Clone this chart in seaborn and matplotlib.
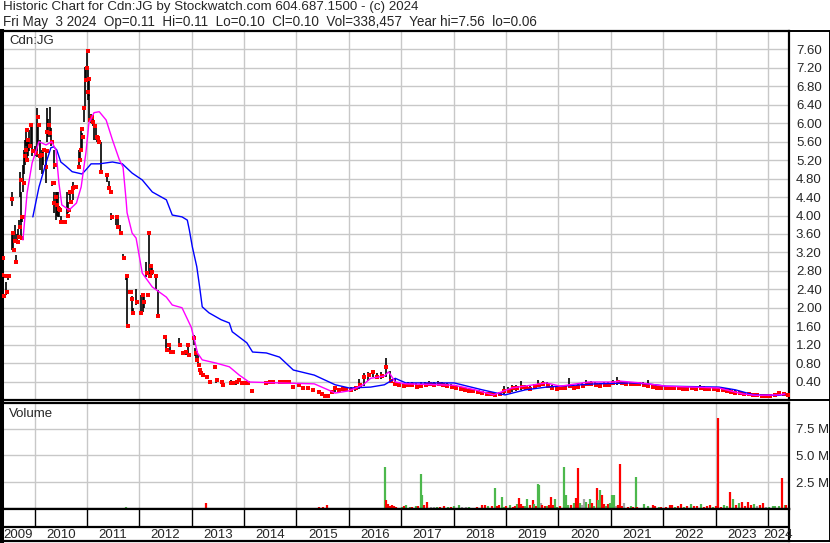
import numpy as np
import pandas as pd
import matplotlib
matplotlib.use("Agg")
import matplotlib.pyplot as plt
from matplotlib.lines import Line2D
import seaborn as sns

W, H = 830, 543

title_line1 = "Historic Chart for Cdn:JG by Stockwatch.com 604.687.1500 - (c) 2024"
title_line2 = ("Fri May  3 2024  Op=0.11  Hi=0.11  Lo=0.10  Cl=0.10  "
               "Vol=338,457  Year hi=7.56  lo=0.06")
symbol = "Cdn:JG"

# sparse trading 2009-2015: one row per year in each list
bar_dates = [
    "2009-05-15", "2009-05-22", "2009-05-29", "2009-06-10", "2009-06-18", "2009-06-25", "2009-07-03",
    "2009-07-25", "2009-07-28", "2009-08-05", "2009-08-15", "2009-08-22", "2009-09-01", "2009-09-10",
    "2009-09-18", "2009-09-22", "2009-09-29", "2009-10-01", "2009-10-05", "2009-10-12", "2009-10-20",
    "2009-10-28", "2009-11-03", "2009-11-08", "2009-11-15", "2009-11-25", "2009-12-05", "2009-12-15",
    "2010-01-05", "2010-01-18", "2010-01-28", "2010-02-05", "2010-02-20", "2010-03-01", "2010-03-20",
    "2010-03-25", "2010-03-28", "2010-04-08", "2010-04-18", "2010-04-28", "2010-05-05", "2010-05-10",
    "2010-05-15", "2010-05-20", "2010-05-28", "2010-06-05", "2010-06-15", "2010-06-22", "2010-07-03",
    "2010-07-20", "2010-07-28", "2010-08-18", "2010-08-25", "2010-09-01", "2010-09-08", "2010-09-12",
    "2010-09-25", "2010-10-05", "2010-10-15", "2010-11-05", "2010-11-10", "2010-11-15", "2010-11-22",
    "2010-11-28", "2010-12-10", "2010-12-22", "2010-12-28",
    "2011-01-03", "2011-01-08", "2011-01-14", "2011-01-19", "2011-02-01", "2011-02-10", "2011-02-22",
    "2011-03-05", "2011-03-15", "2011-03-25", "2011-04-08", "2011-05-20", "2011-06-01", "2011-06-12",
    "2011-06-20", "2011-07-25", "2011-08-05", "2011-08-20", "2011-09-10", "2011-10-01", "2011-10-08",
    "2011-10-22", "2011-10-28", "2011-11-10", "2011-11-15", "2011-12-10",
    "2012-01-12", "2012-01-25", "2012-02-01", "2012-02-20", "2012-02-28", "2012-03-08", "2012-03-15",
    "2012-03-22", "2012-03-29", "2012-04-25", "2012-05-10", "2012-06-25", "2012-07-08", "2012-07-20",
    "2012-08-05", "2012-08-20", "2012-10-05", "2012-10-25", "2012-11-20", "2012-12-05", "2012-12-12",
    "2013-01-15", "2013-01-25", "2013-02-01", "2013-02-15", "2013-02-25", "2013-03-05", "2013-03-15",
    "2013-04-12", "2013-05-01", "2013-06-05", "2013-06-20", "2013-07-25", "2013-08-05", "2013-10-01",
    "2013-10-15", "2013-11-08", "2013-11-20", "2013-12-10",
    "2014-01-05", "2014-01-25", "2014-02-20", "2014-06-01", "2014-06-25", "2014-07-15", "2014-09-01",
    "2014-09-20", "2014-10-10", "2014-11-05", "2014-12-01",
    "2015-01-15", "2015-02-10", "2015-03-15", "2015-04-20", "2015-06-01", "2015-06-25", "2015-07-15",
    "2015-08-05", "2015-09-05", "2015-09-25", "2015-10-20", "2015-11-15", "2015-12-10",
]
bar_high = [
    2.95, 3.10, 2.60, 2.70, 2.56, 2.72, 2.70, 4.50, 3.62, 3.62, 3.80, 3.15, 3.60, 3.70,
    3.90, 4.95, 4.50, 4.00, 4.00, 5.10, 5.42, 5.64, 5.90, 5.60, 5.64, 5.86, 6.00, 5.97,
    5.50, 6.33, 6.00, 5.64, 5.42, 5.45, 5.05, 5.45, 6.33, 6.10, 6.35, 5.90, 4.75, 4.72,
    4.50, 5.42, 4.50, 4.50, 4.50, 4.20, 4.00, 3.90, 3.90, 4.50, 4.30, 4.51, 4.50, 4.53,
    4.73, 4.65, 4.62, 5.10, 5.42, 5.45, 5.90, 5.79, 6.33, 7.23, 7.25,
    7.56, 7.20, 7.00, 6.62, 6.20, 6.10, 6.05, 5.95, 5.70, 5.68, 5.60, 4.90, 4.75, 4.55,
    4.05, 4.01, 3.95, 3.80, 3.17, 2.72, 2.69, 2.34, 2.36, 2.25, 2.00, 2.40,
    2.28, 2.30, 2.28, 3.00, 2.30, 3.62, 2.75, 2.95, 2.90, 2.72, 2.39, 1.40, 1.35, 1.20,
    1.20, 1.06, 1.35, 1.05, 1.06, 1.20, 1.00,
    1.40, 1.13, 1.00, 0.98, 0.70, 0.65, 0.60, 0.54, 0.42, 0.75, 0.46, 0.41, 0.35, 0.43,
    0.38, 0.43, 0.44, 0.38,
    0.38, 0.38, 0.22, 0.39, 0.40, 0.40, 0.40, 0.40, 0.41, 0.40, 0.30,
    0.33, 0.30, 0.28, 0.24, 0.18, 0.15, 0.12, 0.10, 0.22, 0.28, 0.26, 0.28, 0.27,
]
bar_low = [
    2.55, 2.90, 2.25, 2.68, 2.28, 2.65, 2.60, 4.20, 3.25, 3.25, 3.40, 3.00, 3.40, 3.50,
    3.70, 4.40, 3.85, 3.47, 3.86, 4.50, 4.90, 5.10, 5.50, 5.15, 5.30, 5.40, 5.50, 5.30,
    5.30, 5.27, 5.60, 4.99, 4.90, 5.10, 4.70, 5.10, 5.60, 5.70, 5.70, 5.50, 4.65, 4.68,
    4.05, 5.00, 3.90, 4.00, 3.97, 3.97, 3.85, 3.84, 3.84, 3.97, 4.05, 4.45, 4.25, 4.50,
    4.34, 4.60, 4.60, 5.00, 5.05, 5.20, 5.40, 5.38, 6.03, 6.36, 6.90,
    7.20, 6.50, 6.60, 6.07, 6.00, 5.95, 5.64, 5.64, 5.60, 5.58, 4.95, 4.73, 4.55, 4.50,
    3.90, 3.80, 3.75, 3.60, 3.05, 2.60, 1.60, 2.30, 2.30, 1.89, 1.88, 2.05,
    1.89, 1.90, 2.00, 2.67, 2.26, 2.69, 2.68, 2.78, 2.70, 2.40, 1.80, 1.35, 1.08, 1.15,
    1.03, 1.02, 1.19, 1.00, 0.98, 1.00, 0.96,
    1.20, 0.95, 0.87, 0.72, 0.60, 0.55, 0.50, 0.45, 0.37, 0.70, 0.37, 0.38, 0.32, 0.33,
    0.36, 0.33, 0.40, 0.36,
    0.35, 0.36, 0.18, 0.36, 0.37, 0.38, 0.38, 0.38, 0.38, 0.37, 0.27,
    0.30, 0.26, 0.25, 0.21, 0.15, 0.10, 0.07, 0.06, 0.15, 0.18, 0.20, 0.20, 0.21,
]
bar_close = [
    2.70, 3.08, 2.26, 2.69, 2.34, 2.69, 2.69, 4.35, 3.62, 3.25, 3.45, 3.00, 3.43, 3.54,
    3.75, 4.77, 3.97, 3.51, 3.97, 4.70, 5.30, 5.42, 5.86, 5.20, 5.64, 5.50, 5.97, 5.40,
    5.36, 6.14, 5.97, 5.30, 5.31, 5.42, 5.05, 5.40, 5.80, 5.97, 5.79, 5.60, 4.70, 4.70,
    4.27, 5.10, 4.40, 4.23, 4.14, 4.12, 3.86, 3.86, 3.86, 4.00, 4.12, 4.51, 4.30, 4.51,
    4.60, 4.62, 4.62, 5.05, 5.20, 5.42, 5.88, 5.71, 6.33, 6.94, 7.20,
    7.56, 6.68, 6.96, 6.07, 6.14, 6.03, 5.95, 5.70, 5.68, 5.60, 4.95, 4.88, 4.60, 4.51,
    3.97, 3.97, 3.75, 3.62, 3.08, 2.69, 1.60, 2.34, 2.34, 2.20, 1.89, 2.12,
    1.89, 2.28, 2.12, 2.75, 2.28, 3.62, 2.69, 2.90, 2.78, 2.69, 1.82, 1.36, 1.08, 1.19,
    1.04, 1.04, 1.19, 1.02, 1.04, 1.19, 0.98,
    1.35, 1.02, 0.87, 0.76, 0.65, 0.58, 0.54, 0.50, 0.39, 0.72, 0.43, 0.39, 0.33, 0.37,
    0.37, 0.39, 0.43, 0.37,
    0.37, 0.37, 0.20, 0.37, 0.39, 0.39, 0.39, 0.39, 0.39, 0.39, 0.28,
    0.32, 0.26, 0.26, 0.22, 0.17, 0.12, 0.08, 0.08, 0.17, 0.25, 0.22, 0.24, 0.23,
]

# monthly bars Jan 2016 .. May 2024 (one row per year)
month_high = [
    0.28, 0.30, 0.45, 0.59, 0.60, 0.63, 0.58, 0.60, 0.91, 0.62, 0.45, 0.40,
    0.37, 0.38, 0.40, 0.36, 0.38, 0.38, 0.41, 0.38, 0.42, 0.38, 0.37, 0.34,
    0.33, 0.30, 0.28, 0.25, 0.24, 0.21, 0.20, 0.18, 0.16, 0.14, 0.16, 0.30,
    0.28, 0.32, 0.33, 0.42, 0.32, 0.30, 0.35, 0.43, 0.42, 0.38, 0.32, 0.30,
    0.30, 0.33, 0.47, 0.33, 0.34, 0.37, 0.43, 0.42, 0.38, 0.36, 0.38, 0.38,
    0.44, 0.50, 0.42, 0.40, 0.40, 0.39, 0.40, 0.38, 0.43, 0.34, 0.33, 0.31,
    0.31, 0.31, 0.30, 0.30, 0.30, 0.29, 0.30, 0.29, 0.33, 0.30, 0.29, 0.28,
    0.27, 0.26, 0.25, 0.23, 0.21, 0.19, 0.17, 0.15, 0.14, 0.13, 0.12, 0.11,
    0.12, 0.14, 0.18, 0.17, 0.11,
]
month_low = [
    0.17, 0.20, 0.24, 0.30, 0.42, 0.50, 0.45, 0.45, 0.50, 0.36, 0.31, 0.28,
    0.28, 0.30, 0.28, 0.25, 0.28, 0.30, 0.30, 0.30, 0.32, 0.30, 0.28, 0.26,
    0.25, 0.22, 0.20, 0.19, 0.17, 0.15, 0.14, 0.12, 0.11, 0.09, 0.10, 0.13,
    0.15, 0.18, 0.20, 0.22, 0.22, 0.20, 0.24, 0.28, 0.30, 0.28, 0.22, 0.20,
    0.22, 0.24, 0.27, 0.25, 0.26, 0.28, 0.30, 0.30, 0.30, 0.28, 0.30, 0.30,
    0.32, 0.33, 0.32, 0.32, 0.32, 0.31, 0.32, 0.30, 0.28, 0.26, 0.25, 0.24,
    0.24, 0.24, 0.23, 0.23, 0.22, 0.22, 0.23, 0.22, 0.23, 0.22, 0.22, 0.21,
    0.20, 0.19, 0.18, 0.17, 0.15, 0.14, 0.12, 0.11, 0.10, 0.09, 0.08, 0.08,
    0.08, 0.09, 0.10, 0.11, 0.10,
]
month_close = [
    0.22, 0.26, 0.33, 0.50, 0.55, 0.60, 0.50, 0.52, 0.72, 0.42, 0.35, 0.32,
    0.30, 0.33, 0.32, 0.29, 0.31, 0.33, 0.34, 0.32, 0.35, 0.33, 0.31, 0.28,
    0.27, 0.24, 0.22, 0.20, 0.19, 0.17, 0.15, 0.14, 0.12, 0.10, 0.12, 0.20,
    0.20, 0.25, 0.26, 0.28, 0.25, 0.24, 0.28, 0.33, 0.35, 0.30, 0.25, 0.24,
    0.25, 0.27, 0.30, 0.27, 0.29, 0.31, 0.34, 0.35, 0.33, 0.31, 0.33, 0.33,
    0.36, 0.38, 0.36, 0.35, 0.35, 0.34, 0.35, 0.32, 0.31, 0.28, 0.27, 0.26,
    0.26, 0.26, 0.25, 0.25, 0.24, 0.24, 0.25, 0.24, 0.25, 0.24, 0.24, 0.23,
    0.22, 0.21, 0.20, 0.18, 0.16, 0.15, 0.13, 0.12, 0.11, 0.10, 0.09, 0.09,
    0.09, 0.11, 0.15, 0.13, 0.10,
]

# moving averages (blue = slow, magenta = fast)
slow_ma_dates = [
    "2009-12-20", "2010-02-01", "2010-03-22", "2010-04-25", "2010-05-15", "2010-06-05", "2010-07-03",
    "2010-08-08", "2010-09-20", "2010-11-28", "2010-12-25", "2011-01-30", "2011-03-28", "2011-06-28",
    "2011-09-05", "2011-11-12", "2012-01-22", "2012-04-01", "2012-07-08", "2012-08-18", "2012-10-25",
    "2012-12-01", "2012-12-15", "2013-01-05", "2013-02-05", "2013-02-25", "2013-03-15", "2013-05-01",
    "2013-07-25", "2013-09-20", "2013-10-10", "2014-01-20", "2014-03-01", "2014-06-05", "2014-09-05",
    "2014-12-10", "2015-05-05", "2015-09-28", "2016-01-05", "2016-06-01", "2016-09-05", "2016-11-20",
    "2017-02-01", "2018-01-05", "2018-07-20", "2018-12-25", "2019-05-15", "2019-10-10", "2020-01-15",
    "2020-09-15", "2021-05-20", "2021-09-15", "2022-01-20", "2023-01-25", "2023-05-20", "2023-09-25",
    "2024-03-10", "2024-04-28",
]
slow_ma = [
    3.97, 4.62, 5.14, 5.47, 5.49, 5.42, 5.16, 5.07, 4.95, 4.90, 4.99, 5.12, 5.12, 5.16,
    5.12, 4.92, 4.77, 4.51, 4.34, 4.01, 3.97, 3.90, 3.69, 3.32, 2.89, 2.45, 2.02, 1.89,
    1.74, 1.67, 1.48, 1.24, 1.04, 1.02, 0.93, 0.65, 0.54, 0.33, 0.26, 0.28, 0.33, 0.47,
    0.37, 0.37, 0.22, 0.11, 0.22, 0.28, 0.30, 0.35, 0.37, 0.35, 0.30, 0.28, 0.22, 0.11,
    0.10, 0.12,
]
fast_ma_dates = [
    "2009-10-12", "2009-11-10", "2009-12-15", "2010-02-01", "2010-03-22", "2010-05-01", "2010-05-30",
    "2010-06-20", "2010-07-10", "2010-08-30", "2010-10-20", "2010-11-22", "2010-12-25", "2011-01-15",
    "2011-02-20", "2011-03-28", "2011-05-15", "2011-06-28", "2011-08-15", "2011-09-10", "2011-10-01",
    "2011-10-08", "2011-11-12", "2011-12-10", "2012-01-22", "2012-04-01", "2012-07-08", "2012-08-18",
    "2012-10-25", "2012-12-28", "2013-01-20", "2013-02-10", "2013-03-15", "2013-06-20", "2013-09-20",
    "2013-11-28", "2014-02-05", "2014-09-05", "2015-05-05", "2015-08-10", "2015-09-28", "2016-01-05",
    "2016-04-10", "2016-06-01", "2016-09-05", "2016-10-05", "2016-11-20", "2017-02-01", "2018-01-05",
    "2018-06-01", "2018-10-05", "2019-02-10", "2019-08-25", "2019-10-10", "2020-01-15", "2020-07-30",
    "2021-01-15", "2021-03-05", "2021-07-28", "2022-01-20", "2023-01-25", "2023-07-10", "2023-10-15",
    "2024-03-10", "2024-04-28",
]
fast_ma = [
    3.47, 4.49, 5.14, 5.60, 5.53, 5.60, 5.42, 4.70, 4.23, 4.12, 4.27, 4.62, 5.36, 6.01,
    6.23, 6.25, 6.07, 5.64, 5.21, 5.05, 4.34, 4.06, 3.62, 3.51, 2.75, 2.45, 2.23, 2.06,
    2.00, 1.58, 1.30, 1.02, 0.87, 0.80, 0.72, 0.54, 0.39, 0.37, 0.35, 0.22, 0.15, 0.20,
    0.33, 0.47, 0.52, 0.61, 0.39, 0.35, 0.32, 0.22, 0.11, 0.26, 0.35, 0.37, 0.30, 0.39,
    0.39, 0.41, 0.37, 0.30, 0.26, 0.13, 0.10, 0.11, 0.13,
]

# volume (millions), direction u=up d=down f=unchanged
vol_dates = [
    "2010-06-15", "2011-10-01", "2013-04-12", "2015-06-10", "2015-07-05", "2015-08-01",
    "2016-09-10", "2016-09-18", "2016-10-01", "2016-10-15", "2016-10-25", "2016-11-10", "2016-11-25",
    "2017-01-05", "2017-01-20", "2017-02-05", "2017-02-28", "2017-03-20", "2017-04-10", "2017-04-25",
    "2017-05-15", "2017-05-28", "2017-06-10", "2017-07-01", "2017-07-25", "2017-08-15", "2017-09-05",
    "2017-09-25", "2017-10-28", "2017-11-25", "2017-12-15",
    "2018-01-05", "2018-02-10", "2018-02-25", "2018-03-25", "2018-04-20", "2018-05-10", "2018-06-15",
    "2018-07-20", "2018-08-10", "2018-08-30", "2018-09-28", "2018-10-18", "2018-11-01", "2018-11-15",
    "2018-12-05", "2018-12-18",
    "2019-01-01", "2019-01-30", "2019-02-20", "2019-03-05", "2019-03-20", "2019-04-01", "2019-04-15",
    "2019-05-01", "2019-05-15", "2019-05-28", "2019-06-20", "2019-07-05", "2019-07-18", "2019-08-01",
    "2019-08-15", "2019-08-22", "2019-08-30", "2019-09-12", "2019-10-01", "2019-10-15", "2019-10-28",
    "2019-11-10", "2019-11-25", "2019-12-08", "2019-12-22",
    "2020-01-15", "2020-02-12", "2020-02-25", "2020-03-10", "2020-04-01", "2020-04-22", "2020-05-05",
    "2020-05-20", "2020-06-01", "2020-06-15", "2020-07-01", "2020-07-15", "2020-07-30", "2020-08-12",
    "2020-08-25", "2020-09-08", "2020-09-24", "2020-10-05", "2020-10-20", "2020-11-02", "2020-11-15",
    "2020-11-30", "2020-12-12", "2020-12-28",
    "2021-01-10", "2021-01-25", "2021-02-08", "2021-02-22", "2021-03-08", "2021-03-22", "2021-04-05",
    "2021-04-28", "2021-05-18", "2021-06-01", "2021-06-22", "2021-07-05", "2021-07-28", "2021-08-22",
    "2021-09-15", "2021-10-05", "2021-10-25", "2021-11-08", "2021-11-30", "2021-12-20",
    "2022-01-20", "2022-02-15", "2022-03-01", "2022-03-22", "2022-04-15", "2022-05-05", "2022-05-28",
    "2022-06-18", "2022-07-15", "2022-08-05", "2022-08-25", "2022-09-22", "2022-10-12", "2022-11-02",
    "2022-11-25", "2022-12-15",
    "2023-01-05", "2023-01-20", "2023-02-10", "2023-03-01", "2023-03-22", "2023-04-12", "2023-05-05",
    "2023-05-25", "2023-06-15", "2023-07-05", "2023-07-28", "2023-08-18", "2023-09-08", "2023-09-28",
    "2023-10-20", "2023-11-10", "2023-12-01", "2023-12-22",
    "2024-01-12", "2024-02-02", "2024-02-22", "2024-03-15", "2024-04-08", "2024-04-28", "2024-05-03",
]
vol_millions = [
    0.10, 0.20, 0.55, 0.15, 0.15, 0.35,
    3.90, 0.80, 0.50, 0.30, 0.40, 0.30, 0.20,
    0.20, 0.30, 0.35, 0.15, 0.20, 0.25, 0.30,
    3.30, 1.35, 0.40, 0.70, 0.15, 0.15, 0.20,
    0.15, 0.25, 0.15, 0.20,
    0.25, 0.40, 0.15, 0.15, 0.20, 0.10, 0.20,
    0.35, 0.35, 0.25, 0.25, 2.00, 0.30, 0.40,
    1.15, 0.20,
    0.30, 0.35, 0.20, 0.30, 0.45, 1.00, 0.50,
    0.30, 0.30, 0.90, 0.40, 0.80, 0.50, 0.30,
    2.30, 2.20, 0.60, 0.40, 0.30, 0.30, 0.35,
    1.10, 0.40, 0.90, 0.20,
    0.30, 3.90, 1.30, 0.40, 0.40, 0.60, 1.00,
    3.80, 0.60, 0.40, 0.90, 0.70, 0.50, 0.90,
    0.60, 0.30, 2.00, 0.80, 1.80, 1.30, 0.50,
    0.30, 0.50, 0.60,
    1.30, 1.30, 0.30, 0.40, 4.20, 0.30, 0.60,
    0.20, 0.30, 0.20, 3.00, 0.20, 0.10, 0.50,
    0.30, 0.10, 0.35, 0.25, 0.20, 0.15,
    0.15, 0.35, 0.35, 0.20, 0.30, 0.45, 0.20,
    0.30, 0.45, 0.30, 0.30, 0.45, 0.20, 0.30,
    0.35, 0.20,
    0.30, 8.50, 0.20, 0.40, 0.30, 1.60, 0.90,
    0.40, 0.60, 0.70, 0.30, 0.70, 0.40, 0.50,
    0.30, 0.40, 0.60, 0.20,
    0.20, 0.30, 0.30, 0.30, 2.90, 0.40, 0.34,
]
vol_dir = [
    "u", "u", "d", "d", "d", "d",
    "u", "d", "d", "d", "d", "d", "d",
    "u", "d", "u", "u", "d", "u", "d",
    "u", "u", "d", "d", "f", "f", "u",
    "d", "d", "u", "d",
    "u", "u", "f", "f", "u", "d", "d",
    "d", "d", "u", "d", "u", "d", "d",
    "u", "u",
    "d", "u", "d", "d", "u", "d", "d",
    "d", "u", "u", "d", "d", "u", "d",
    "u", "u", "f", "d", "d", "u", "d",
    "d", "d", "u", "u",
    "d", "u", "u", "u", "d", "u", "d",
    "d", "u", "f", "f", "u", "d", "u",
    "d", "u", "d", "u", "u", "d", "d",
    "u", "d", "u",
    "u", "u", "f", "d", "d", "d", "f",
    "d", "u", "d", "u", "d", "u", "u",
    "u", "d", "d", "d", "u", "d",
    "d", "d", "d", "u", "d", "d", "u",
    "d", "u", "d", "d", "u", "d", "d",
    "d", "u",
    "d", "d", "d", "u", "u", "d", "u",
    "d", "u", "d", "d", "d", "d", "u",
    "f", "d", "d", "f",
    "u", "u", "u", "u", "d", "u", "d",
]

assert len(bar_dates) == len(bar_high) == len(bar_low) == len(bar_close)
assert len(month_high) == len(month_low) == len(month_close)
assert len(vol_dates) == len(vol_millions) == len(vol_dir)

VOL_COLORS = {"u": "#4cb84c", "d": "#ff0000", "f": "#a4a4a4"}
GRID = "#c8c8c8"

month_dates = pd.date_range("2016-01-01", periods=len(month_high), freq="MS") + pd.Timedelta(days=14)
prices = pd.DataFrame({
    "date": list(pd.to_datetime(bar_dates)) + list(month_dates),
    "high": bar_high + month_high,
    "low": bar_low + month_low,
    "close": bar_close + month_close,
})
# the close tick sits just right of the high-low bar
prices["tick"] = prices["date"] + pd.Timedelta(days=4)
slow = pd.DataFrame({"date": pd.to_datetime(slow_ma_dates), "value": slow_ma})
fast = pd.DataFrame({"date": pd.to_datetime(fast_ma_dates), "value": fast_ma})
vol = pd.DataFrame({"date": pd.to_datetime(vol_dates),
                    "volume": np.array(vol_millions) * 1e6,
                    "color": [VOL_COLORS[d] for d in vol_dir]})

x_start, x_end = pd.Timestamp("2009-05-19"), pd.Timestamp("2024-05-27")
year_starts = pd.to_datetime([f"{y}-01-01" for y in range(2010, 2025)])

sns.set_style("white")
plt.rcParams["font.family"] = ["Liberation Sans", "DejaVu Sans"]

fig = plt.figure(figsize=(W / 100, H / 100), dpi=100)


def box(left, top, right, bottom):
    return [left / W, 1 - bottom / H, (right - left) / W, (bottom - top) / H]


ax_p = fig.add_axes(box(2, 31, 789, 400))
ax_v = fig.add_axes(box(2, 403, 789, 509))
ax_y = fig.add_axes(box(2, 509, 789, 541))

# price panel
ax_p.vlines(prices["date"], prices["low"], prices["high"], color="black", lw=1.2, zorder=2)
sns.scatterplot(data=prices, x="tick", y="close", marker="s", s=5, color="#ff0000",
                linewidth=0, ax=ax_p, zorder=3)
sns.lineplot(data=slow, x="date", y="value", color="#0000ff", lw=1.0, ax=ax_p, zorder=4)
sns.lineplot(data=fast, x="date", y="value", color="#ff00ff", lw=1.0, ax=ax_p, zorder=4)
ax_p.set_ylim(0, 8.0)
ax_p.set_yticks(np.arange(0.4, 7.61, 0.4))
ax_p.yaxis.set_major_formatter(matplotlib.ticker.FormatStrFormatter("%.2f"))
ax_p.text(0.009, 0.99, symbol, transform=ax_p.transAxes, va="top", ha="left", fontsize=9.5)

# volume panel
ax_v.vlines(vol["date"], 0, vol["volume"], colors=vol["color"], lw=1.6)
ax_v.set_ylim(0, 9.9e6)
ax_v.set_yticks([2.5e6, 5.0e6, 7.5e6])
ax_v.set_yticklabels([f"{v / 1e6:.1f} M" for v in [2.5e6, 5.0e6, 7.5e6]])
ax_v.text(0.009, 0.95, "Volume", transform=ax_v.transAxes, va="top", ha="left", fontsize=9.5)

for ax in (ax_p, ax_v):
    ax.set_xlim(x_start, x_end)
    ax.set_xticks(year_starts)
    ax.yaxis.tick_right()
    ax.tick_params(axis="both", length=0, labelsize=9.5, labelbottom=False, pad=5)
    ax.grid(True, color=GRID, lw=1.0)
    ax.set_axisbelow(True)
    ax.set_xlabel("")
    ax.set_ylabel("")

# year strip
ax_y.set_xlim(x_start, x_end)
ax_y.set_ylim(0, 1)
ax_y.set_xticks([])
ax_y.set_yticks([])
split = 14 / 32
ax_y.axhline(split, color="black", lw=1.6)
ax_y.vlines(year_starts, split, 1, color="black", lw=1.0)
edges = [x_start] + list(year_starts) + [x_end]
for i, yr in enumerate(range(2009, 2025)):
    mid = edges[i] + (edges[i + 1] - edges[i]) / 2
    ax_y.text(mid, split / 2 - 0.03, str(yr), ha="center", va="center", fontsize=9.5)

for ax in (ax_p, ax_v, ax_y):
    for side, sp in ax.spines.items():
        sp.set_visible(True)
        sp.set_color("black")
        sp.set_linewidth(1.6)
    ax.spines["left"].set_linewidth(2.9)

# title block and outer frame
fig.text(3 / W, 1 - 1 / H, title_line1, ha="left", va="top", fontsize=9.6)
fig.text(3 / W, 1 - 15 / H, title_line2, ha="left", va="top", fontsize=9.75)
for xs, ys in [([789 / W, 1], [1 - 31 / H] * 2),
               ([789 / W, 1], [1 - 400 / H] * 2),
               ([0, 1], [1 - 541 / H] * 2),
               ([829.5 / W] * 2, [1 - 31 / H, 1 - 541 / H])]:
    fig.add_artist(Line2D(xs, ys, transform=fig.transFigure, color="black", lw=1.4))

fig.savefig("out.png", dpi=100)
